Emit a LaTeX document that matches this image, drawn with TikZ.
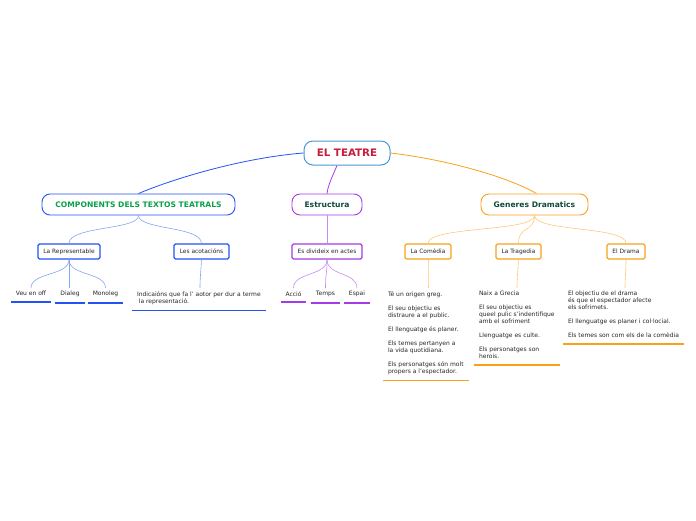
\documentclass[tikz,border=0pt]{standalone}
\usepackage{fontspec}
\setmainfont{DejaVu Sans}
\definecolor{rootb}{HTML}{4A98D4}
\definecolor{roott}{HTML}{C41E3A}
\definecolor{blueb}{HTML}{2352F5}
\definecolor{bluel}{HTML}{86A4F5}
\definecolor{greent}{HTML}{0AA04A}
\definecolor{darkt}{HTML}{0E4A3A}
\definecolor{purb}{HTML}{A53BE6}
\definecolor{purl}{HTML}{C88AF2}
\definecolor{orb}{HTML}{F7A21B}
\definecolor{orl}{HTML}{FFC77A}
\definecolor{leaft}{HTML}{262626}
\tikzset{
  rootbox/.style={draw=rootb, line width=1pt, rounded corners=9pt, fill=white, text=roott,
    font=\fontsize{10.3}{12}\selectfont\bfseries, minimum width=86pt, minimum height=24pt, inner sep=0pt},
  mainbox/.style={draw=#1, line width=0.9pt, rounded corners=8pt, fill=white, text=darkt,
    font=\fontsize{7.6}{9}\selectfont\bfseries, minimum height=21pt, inner sep=0pt},
  subbox/.style={draw=#1, line width=1.3pt, rounded corners=1.5pt, fill=white, text=leaft,
    font=\fontsize{5.9}{7}\selectfont, minimum height=15pt, inner sep=0pt},
  leaf/.style={text=leaft, font=\fontsize{6}{7}\selectfont, inner xsep=4.8pt, inner ysep=3.2pt, align=left},
  uline/.style={color=#1, line width=1.5pt},
  conn/.style={color=#1, line width=0.8pt},
  thinc/.style={color=#1, line width=0.6pt},
}
\begin{document}
\begin{tikzpicture}[x=1pt, y=-1pt]
\useasboundingbox (0,0) rectangle (696,520);
% root
\node[rootbox] (root) at (347,153) {EL TEATRE};
% level 1
\node[mainbox=blueb, text=greent, minimum width=193pt] (comp) at (138.5,204.5) {COMPONENTS DELS TEXTOS TEATRALS};
\node[mainbox=purb, minimum width=70pt] (estr) at (327,204.5) {Estructura};
\node[mainbox=orb, minimum width=107pt] (gen) at (534.5,204.5) {Generes Dramatics};
% level 2
\node[subbox=blueb, minimum width=62pt] (repr) at (69,251.5) {La Representable};
\node[subbox=blueb, minimum width=55pt] (acot) at (201.5,251.5) {Les acotacións};
\node[subbox=purb, minimum width=70pt] (actes) at (327,251.5) {Es divideix en actes};
\node[subbox=orb, minimum width=46pt] (come) at (428,251.5) {La Comèdia};
\node[subbox=orb, minimum width=45pt] (trag) at (518.5,251.5) {La Tragedia};
\node[subbox=orb, minimum width=38pt] (drama) at (626,251.5) {El Drama};
% leaves
\node[leaf, anchor=north] (veu) at (31,288) {Veu en off};
\node[leaf, anchor=north] (dial) at (70,288) {Dialeg};
\node[leaf, anchor=north] (mono) at (105.5,288) {Monoleg};
\node[leaf, anchor=north west] (indi) at (132,288) {Indicaións que fa l' aotor per dur a terme\\ \ la representació.};
\node[leaf, anchor=north] (accio) at (293.5,288) {Acció};
\node[leaf, anchor=north] (temps) at (325.5,288) {Temps};
\node[leaf, anchor=north] (espai) at (357,288) {Espai};
\node[leaf, anchor=north west] (tcom) at (383,288) {Té un origen greg.\\[7pt]El seu objectiu es\\distraure a el public.\\[7pt]El llenguatge és planer.\\[7pt]Els temes pertanyen a\\la vida quotidiana.\\[7pt]Els personatges són molt\\propers a l'espectador.};
\node[leaf, anchor=north west] (ttrag) at (474,288) {Naix a Grecia\\[7pt]El seu objectiu es\\queel pulic s'indentifique\\amb el sofriment\\[7pt]Llenguatge es culte.\\[7pt]Els personatges son\\herois.};
\node[leaf, anchor=north west] (tdra) at (563,288) {El objectiu de el drama\\és que el espectador afecte\\els sofrimets.\\[7pt]El llenguatge es planer i col·locial.\\[7pt]Els temes son com els de la comèdia};
% underlines
\draw[uline=blueb] ([yshift=-2.5pt]veu.south west) -- ([yshift=-2.5pt]veu.south east);
\draw[uline=blueb] ([yshift=-2.5pt]dial.south west) -- ([yshift=-2.5pt]dial.south east);
\draw[uline=blueb] ([yshift=-2.5pt]mono.south west) -- ([yshift=-2.5pt]mono.south east);
\draw[uline=blueb] ([yshift=-2.5pt]indi.south west) -- ([yshift=-2.5pt]indi.south east);
\draw[uline=purb] ([yshift=-2.5pt]accio.south west) -- ([yshift=-2.5pt]accio.south east);
\draw[uline=purb] ([yshift=-2.5pt]temps.south west) -- ([yshift=-2.5pt]temps.south east);
\draw[uline=purb] ([yshift=-2.5pt]espai.south west) -- ([yshift=-2.5pt]espai.south east);
\draw[uline=orb] ([yshift=-2.5pt]tcom.south west) -- ([yshift=-2.5pt]tcom.south east);
\draw[uline=orb] ([yshift=-2.5pt]ttrag.south west) -- ([yshift=-2.5pt]ttrag.south east);
\draw[uline=orb] ([yshift=-2.5pt]tdra.south west) -- ([yshift=-2.5pt]tdra.south east);
% connectors level 0-1
\draw[conn=blueb] (root.west) .. controls (240,158) and (170,180) .. (comp.north);
\draw[conn=purb] ([xshift=-10pt]root.south) .. controls (333,175) and (328,185) .. (estr.north);
\draw[conn=orb] (root.east) .. controls (450,160) and (510,178) .. ([xshift=2pt]gen.north);
% level 1-2
\draw[thinc=bluel] (comp.south) .. controls (139,230) and (69,226) .. (repr.north);
\draw[thinc=bluel] (comp.south) .. controls (139,230) and (201,226) .. (acot.north);
\draw[thinc=purl] (estr.south) -- (actes.north);
\draw[thinc=orl] (gen.south) .. controls (535,232) and (428,226) .. (come.north);
\draw[thinc=orl] (gen.south) .. controls (535,232) and (518,226) .. (trag.north);
\draw[thinc=orl] (gen.south) .. controls (535,232) and (626,226) .. (drama.north);
% level 2-3
\draw[thinc=bluel] (repr.south) .. controls (69,276) and (31,272) .. (veu.north);
\draw[thinc=bluel] (repr.south) -- (dial.north -| repr.south);
\draw[thinc=bluel] (repr.south) .. controls (69,276) and (105.5,272) .. (mono.north);
\draw[thinc=bluel] (acot.south) .. controls (201,270) and (200,278) .. (200,288);
\draw[thinc=purl] (actes.south) .. controls (327,276) and (293.5,272) .. (accio.north);
\draw[thinc=purl] (actes.south) .. controls (327,276) and (325.5,272) .. (temps.north);
\draw[thinc=purl] (actes.south) .. controls (327,276) and (357,272) .. (espai.north);
\draw[thinc=orl] (come.south) .. controls (428,270) and (428,278) .. (428,288);
\draw[thinc=orl] (trag.south) .. controls (518,270) and (517,278) .. (517,288);
\draw[thinc=orl] (drama.south) .. controls (626,270) and (625,278) .. (625,288);
\end{tikzpicture}
\end{document}
